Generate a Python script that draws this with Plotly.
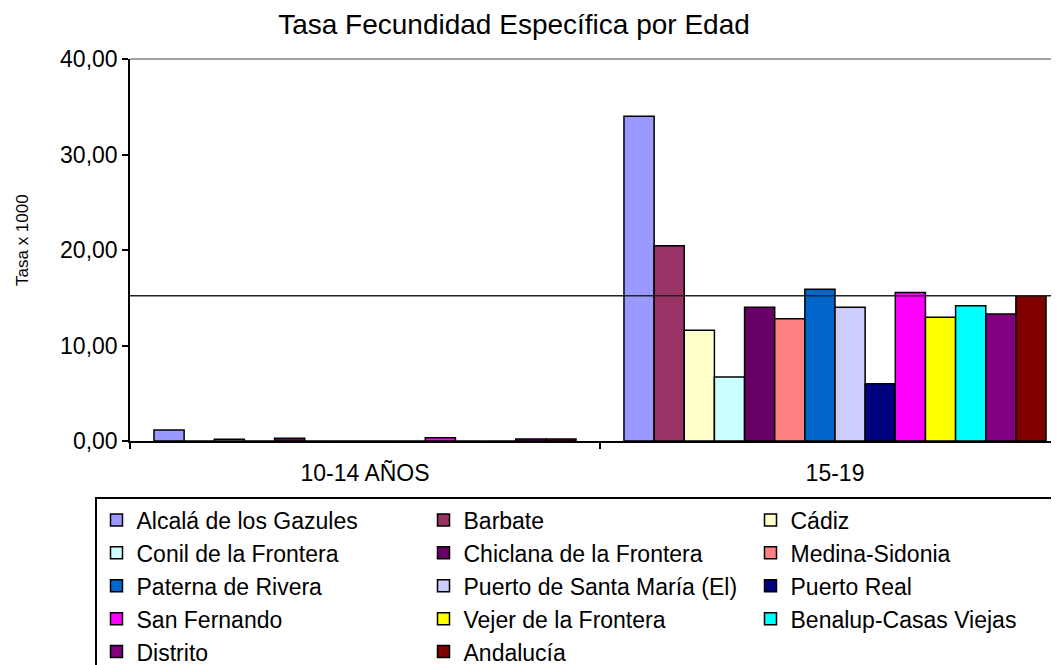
import plotly.graph_objects as go

age_groups = ["10-14 AÑOS", "15-19"]
municipios = [
    "Alcalá de los Gazules", "Barbate", "Cádiz",
    "Conil de la Frontera", "Chiclana de la Frontera", "Medina-Sidonia",
    "Paterna de Rivera", "Puerto de Santa María (El)", "Puerto Real",
    "San Fernando", "Vejer de la Frontera", "Benalup-Casas Viejas",
    "Distrito", "Andalucía",
]
tasa_10_14 = [1.15, 0.0, 0.18, 0.0, 0.30, 0.0, 0.0, 0.0, 0.0, 0.35, 0.0, 0.0, 0.20, 0.20]
tasa_15_19 = [34.0, 20.45, 11.6, 6.7, 14.0, 12.8, 15.9, 14.0, 6.0, 15.55, 12.95, 14.15, 13.3, 15.2]
colores = [
    "#9999FF", "#993366", "#FFFFCC", "#CCFFFF", "#660066", "#FF8080",
    "#0066CC", "#CCCCFF", "#000080", "#FF00FF", "#FFFF00", "#00FFFF",
    "#800080", "#800000",
]
y_ticks = [0, 10, 20, 30, 40]
linea_referencia = tasa_15_19[municipios.index("Andalucía")]

FONT = "Liberation Sans, Arial, sans-serif"
OFF = 8  # page body margin
W, H = 1059 - OFF, 665 - OFF
L, R = 130 - OFF, 0
T = 59 - OFF
B = H - (441 - OFF)
plot_w = W - L - R
plot_h = H - T - B

fig = go.Figure()
for i, name in enumerate(municipios):
    fig.add_trace(go.Bar(
        name=name,
        x=age_groups,
        y=[tasa_10_14[i], tasa_15_19[i]],
        marker=dict(color=colores[i], line=dict(color="black", width=1.5)),
    ))

# Andalucía reference line
fig.add_shape(type="line", xref="paper", yref="y", x0=0, x1=1,
              y0=linea_referencia, y1=linea_referencia,
              line=dict(color="#222222", width=1.5), layer="above")
# top border of plot area
fig.add_shape(type="line", xref="paper", yref="paper", x0=0, x1=1, y0=1, y1=1,
              line=dict(color="#a0a0a0", width=2), layer="above")

# y axis title as rotated text
fig.add_annotation(text="Tasa x 1000", xref="paper", yref="paper",
                   x=(22 - OFF - L) / plot_w, y=(441 - 240) / plot_h,
                   xanchor="center", yanchor="middle", textangle=-90,
                   showarrow=False, font=dict(size=17, family=FONT, color="black"))

cat_px = 470.0
fig.update_layout(
    width=W, height=H,
    margin=dict(l=L, r=R, t=T, b=B, autoexpand=False),
    paper_bgcolor="white", plot_bgcolor="white",
    separators=",.",
    barmode="group", bargap=0.102, bargroupgap=0,
    font=dict(family=FONT, color="black"),
    title=dict(text="Tasa Fecundidad Específica por Edad",
               font=dict(size=28, family=FONT, color="black"),
               xref="container", x=(514 - OFF) / W, xanchor="center",
               yref="container", y=1 - (24 - OFF) / H, yanchor="middle"),
    xaxis=dict(
        type="category",
        range=[-0.5, -0.5 + plot_w / cat_px],
        showline=True, linecolor="black", linewidth=1.5,
        ticks="outside", ticklen=6, tickwidth=1.5, tickcolor="black",
        tickson="boundaries", ticklabelstandoff=11,
        tickfont=dict(size=23, family=FONT, color="black"),
        showgrid=False, zeroline=False,
    ),
    yaxis=dict(
        range=[0, 40], tickvals=y_ticks, tickformat=".2f",
        showline=True, linecolor="black", linewidth=1.5,
        ticks="outside", ticklen=6, tickwidth=1.5, tickcolor="black",
        tickfont=dict(size=23, family=FONT, color="black"),
        showgrid=False, zeroline=False,
    ),
    legend=dict(
        orientation="h",
        x=(95 - OFF - L) / plot_w, xanchor="left",
        y=(441 - 497) / plot_h, yanchor="top",
        entrywidth=282, entrywidthmode="pixels",
        font=dict(size=23, family=FONT, color="black"),
        bgcolor="white", bordercolor="black", borderwidth=1.5,
        traceorder="normal",
    ),
    showlegend=True,
)

fig.write_html("out.html")
